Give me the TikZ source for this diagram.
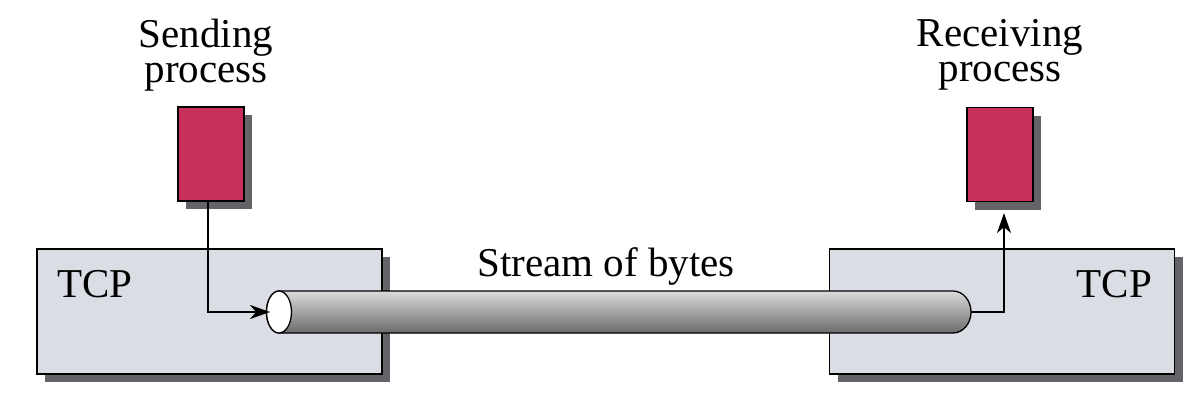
\documentclass[tikz,border=0pt]{standalone}
\usepackage{fontspec}
\setmainfont{Liberation Serif}
\usetikzlibrary{arrows.meta,shadows,shapes.geometric}
\definecolor{procred}{RGB}{198,48,90}
\definecolor{tcpgray}{RGB}{218,221,227}
\definecolor{shadowgray}{RGB}{100,100,104}
\begin{document}
\begin{tikzpicture}[x=1pt,y=-1pt,
  lbl/.style={font=\fontsize{41}{35}\selectfont, inner sep=0pt, align=center},
  tcpbox/.style={draw=black, line width=1.3pt, fill=tcpgray, minimum width=345pt, minimum height=125pt, inner sep=0pt,
    drop shadow={shadow xshift=8pt, shadow yshift=-8pt, fill=shadowgray, opacity=1}},
  procbox/.style={draw=black, line width=1.2pt, fill=procred, minimum width=66pt, minimum height=94pt, inner sep=0pt,
    drop shadow={shadow xshift=8pt, shadow yshift=-8pt, fill=shadowgray, opacity=1}},
  flow/.style={draw=black, line width=1.6pt, -{Stealth[length=20pt,width=14pt,inset=6pt]}},
  tubebody/.style={draw=black, line width=1.3pt, top color=black!14, middle color=black!24, bottom color=black!58},
  tubeend/.style={draw=black, line width=1.3pt, fill=white}
]
\useasboundingbox[fill=white] (0,0) rectangle (1204,410);

% TCP boxes
\node[tcpbox] (tcpL) at (209.5,311.5) {};
\node[tcpbox] (tcpR) at (1002,311.5) {};

% process boxes
\node[procbox] (send) at (211,154) {};
\node[procbox] (recv) at (1000,154.5) {};

% tube
\path[tubebody] (279,291) -- (953,291) arc[start angle=-90, end angle=90, x radius=18, y radius=21]
  -- (279,333) arc[start angle=90, end angle=270, x radius=12.5, y radius=21] -- cycle;
\node[tubeend, ellipse, minimum width=25pt, minimum height=42pt, inner sep=0pt] (tubeL) at (279,312) {};
\coordinate (tubein) at (270,312);
\coordinate (tubeout) at (971,312);

% connectors
\draw[flow] ([xshift=-3pt]send.south) |- (tubein);
\draw[flow] (tubeout) -| ([xshift=4pt,yshift=-11pt]recv.south);

% labels
\node[lbl, anchor=north] (sendlbl) at (206,19) {Sending\\process};
\node[lbl, anchor=north] (recvlbl) at (1000,19) {Receiving\\process};
\node[lbl, anchor=base west] (tcpLlbl) at (57,297) {TCP};
\node[lbl, anchor=base east] (tcpRlbl) at (1152,297) {TCP};
\node[lbl, anchor=base] (streamlbl) at (606,276) {Stream of bytes};
\end{tikzpicture}
\end{document}
